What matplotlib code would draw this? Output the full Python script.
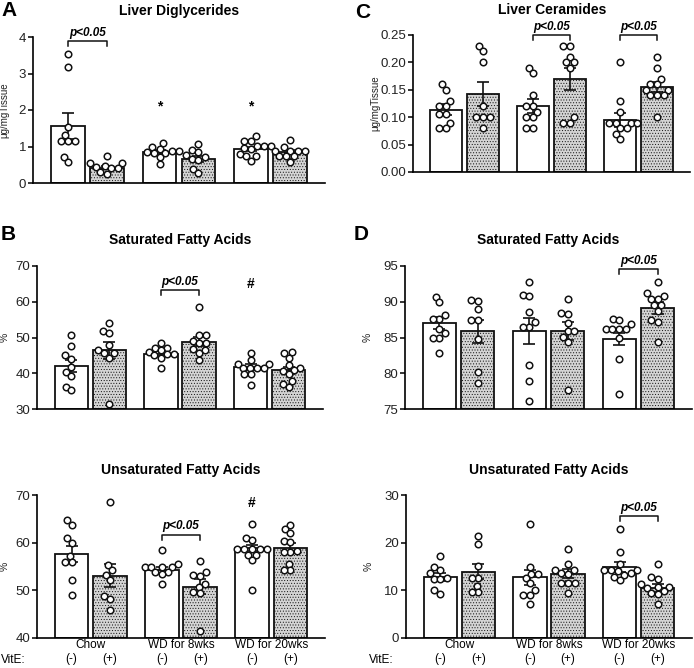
import matplotlib
matplotlib.use('Agg')
import matplotlib.pyplot as plt
import numpy as np

plt.rcParams['font.family'] = ['Liberation Sans', 'DejaVu Sans']
plt.rcParams['hatch.color'] = '#9c9c9c'
plt.rcParams['hatch.linewidth'] = 0.4

groups = ['Chow', 'WD for 8wks', 'WD for 20wks']
vite = ['(-)', '(+)']

# Liver diglycerides (A)
dg_pts = [[3.53, 3.17, 1.54, 1.31, 1.14, 1.14, 1.14, 0.72, 0.58],
          [0.73, 0.55, 0.55, 0.47, 0.44, 0.40, 0.40, 0.31, 0.26],
          [1.10, 0.99, 0.94, 0.87, 0.87, 0.85, 0.81, 0.81, 0.72, 0.51],
          [1.06, 0.90, 0.85, 0.76, 0.72, 0.67, 0.64, 0.39, 0.28],
          [1.28, 1.16, 1.16, 1.02, 1.02, 0.96, 0.94, 0.79, 0.73, 0.73, 0.60],
          [1.17, 1.02, 0.99, 0.88, 0.88, 0.88, 0.88, 0.73, 0.73, 0.73, 0.58]]
dg_mean = [1.56, 0.42, 0.85, 0.65, 0.94, 0.86]
dg_sem = [0.36, 0.05, 0.05, 0.08, 0.06, 0.05]

# Liver ceramides (C)
cer_pts = [[0.16, 0.15, 0.13, 0.12, 0.12, 0.105, 0.105, 0.09, 0.08, 0.08],
           [0.23, 0.22, 0.20, 0.12, 0.10, 0.10, 0.10, 0.08],
           [0.19, 0.18, 0.14, 0.12, 0.12, 0.11, 0.10, 0.10, 0.08, 0.08],
           [0.23, 0.23, 0.21, 0.20, 0.20, 0.19, 0.10, 0.09, 0.09],
           [0.20, 0.13, 0.11, 0.09, 0.09, 0.09, 0.09, 0.08, 0.08, 0.07, 0.06],
           [0.21, 0.19, 0.17, 0.16, 0.16, 0.15, 0.15, 0.14, 0.14, 0.14, 0.10]]
cer_mean = [0.114, 0.143, 0.120, 0.170, 0.095, 0.155]
cer_sem = [0.010, 0.022, 0.013, 0.020, 0.013, 0.009]

# Saturated fatty acids (B)
sfa_b_pts = [[50.8, 47.7, 45.0, 44.1, 41.8, 40.4, 39.2, 36.2, 35.2],
             [54.1, 51.8, 51.3, 48.0, 46.6, 45.7, 45.7, 44.4, 31.3],
             [48.5, 47.2, 47.2, 46.4, 46.0, 45.5, 45.3, 45.0, 44.4, 41.6],
             [58.6, 50.7, 50.7, 49.1, 48.5, 48.5, 46.7, 46.6, 45.7, 43.8],
             [45.7, 43.6, 42.7, 42.7, 41.6, 41.6, 41.6, 41.6, 39.7, 39.7, 36.6],
             [46.0, 45.7, 44.4, 42.2, 41.6, 40.8, 40.6, 39.7, 37.9, 37.1, 36.2]]
sfa_b_mean = [42.1, 46.4, 45.5, 48.8, 41.8, 40.8]
sfa_b_sem = [1.7, 2.4, 0.7, 1.3, 0.9, 1.0]

# Unsaturated fatty acids (B)
ufa_b_pts = [[64.7, 63.7, 60.9, 59.9, 57.3, 55.9, 55.9, 52.2, 49.1],
             [68.5, 55.4, 54.2, 53.3, 52.1, 48.9, 48.2, 45.9],
             [58.4, 55.6, 55.0, 55.0, 55.0, 55.0, 53.8, 53.8, 53.5, 51.4],
             [56.1, 53.8, 53.3, 53.1, 51.4, 50.8, 49.6, 49.4, 41.4],
             [64.0, 61.0, 60.5, 58.7, 58.7, 58.7, 58.7, 58.7, 57.5, 57.5, 56.4, 50.0],
             [63.8, 62.9, 62.0, 60.3, 60.1, 58.2, 58.0, 58.0, 55.6, 54.2, 54.3]]
ufa_b_mean = [57.6, 53.1, 54.3, 50.8, 58.9, 58.9]
ufa_b_sem = [1.7, 2.5, 0.6, 1.5, 0.7, 1.1]

# Saturated fatty acids (D)
sfa_d_pts = [[90.7, 89.9, 88.1, 87.6, 87.6, 86.2, 85.6, 85.0, 85.0, 82.9],
             [90.2, 90.1, 89.0, 87.5, 87.5, 84.8, 80.2, 78.6],
             [92.7, 91.0, 90.8, 88.5, 87.1, 86.5, 86.5, 81.1, 78.9, 76.1],
             [90.4, 88.4, 88.3, 87.0, 85.9, 85.9, 85.1, 84.4, 77.7],
             [87.6, 87.4, 86.9, 86.2, 86.2, 86.2, 86.2, 85.0, 82.0, 77.1],
             [92.8, 91.2, 90.8, 90.4, 90.4, 89.5, 89.5, 88.7, 87.5, 87.1, 84.4]]
sfa_d_mean = [87.0, 85.9, 85.9, 85.9, 84.8, 89.1]
sfa_d_sem = [0.8, 1.6, 1.8, 1.2, 0.8, 0.8]

# Unsaturated fatty acids (D)
ufa_d_pts = [[17.1, 15.0, 14.3, 13.6, 12.6, 12.4, 12.4, 10.0, 9.3],
             [21.3, 19.8, 15.2, 12.6, 12.6, 11.0, 9.6, 9.6],
             [24.0, 15.0, 13.5, 13.5, 12.6, 11.5, 10.1, 9.1, 9.1, 7.2],
             [18.7, 15.6, 14.3, 14.2, 13.6, 13.5, 11.5, 11.5, 11.5, 9.4],
             [22.9, 18.0, 15.6, 14.2, 14.2, 14.2, 14.0, 13.6, 13.3, 12.9, 12.2],
             [15.6, 12.8, 12.4, 11.4, 10.8, 10.8, 10.5, 9.8, 9.4, 9.3, 7.2]]
ufa_d_mean = [12.8, 13.9, 12.7, 13.5, 14.9, 10.5]
ufa_d_sem = [0.8, 1.6, 1.5, 0.9, 1.0, 0.8]

W, H = 694, 668
xpos = np.array([0, 1, 2.35, 3.35, 4.7, 5.7])


def rect(l, t, r, b):
    return [l / W, 1 - b / H, (r - l) / W, (b - t) / H]


def swarm(ax, xc, vals, d=6.8):
    # simple beeswarm in pixel space, returns x positions in data units
    pts = ax.transData.transform(np.column_stack([np.full(len(vals), xc), vals]))
    ys = pts[:, 1]
    ppu = ax.transData.transform([(1, 0)])[0, 0] - ax.transData.transform([(0, 0)])[0, 0]
    xs = np.zeros(len(vals))
    placed = []
    for i in np.argsort(ys):
        y = ys[i]
        cands = [0.0]
        for px, py in placed:
            dy = abs(y - py)
            if dy < d:
                dx = np.sqrt(d * d - dy * dy)
                cands += [px - dx, px + dx]
        cands.sort(key=abs)
        for c in cands:
            if all((c - px) ** 2 + (y - py) ** 2 >= d * d - 1e-6 for px, py in placed):
                xs[i] = c
                break
        placed.append((xs[i], y))
    return xc + xs / ppu


def px_to_data_h(ax, npx):
    y0 = ax.transData.inverted().transform([(0, 0)])[0, 1]
    y1 = ax.transData.inverted().transform([(0, npx)])[0, 1]
    return y1 - y0


def panel(box, pts, mean, sem, ylim, yticks, ylabel, ylab_x, fmt='%g'):
    ax = fig.add_axes(rect(*box))
    ax.set_xlim(-0.9, 6.6)
    ax.set_ylim(*ylim)
    for i in range(6):
        if i % 2 == 0:
            ax.bar(xpos[i], mean[i] - ylim[0], bottom=ylim[0], width=0.87,
                   color='white', edgecolor='#111111', linewidth=1.3, zorder=2)
        else:
            ax.bar(xpos[i], mean[i] - ylim[0], bottom=ylim[0], width=0.87,
                   color='#d4d4d4', edgecolor='#111111', linewidth=1.3,
                   hatch='......', zorder=2)
        ax.errorbar(xpos[i], mean[i], yerr=sem[i], color='#111111', capsize=4.5,
                    elinewidth=1.2, capthick=1.2, zorder=3)
    for i in range(6):
        xs = swarm(ax, xpos[i], pts[i])
        ax.plot(xs, pts[i], 'o', ms=4.7, mfc='white', mec='#111111', mew=1.1,
                zorder=4, clip_on=False)
    ax.spines['top'].set_visible(False)
    ax.spines['right'].set_visible(False)
    ax.spines['left'].set_linewidth(1.2)
    ax.spines['bottom'].set_linewidth(1.2)
    ax.set_xticks([])
    ax.set_yticks(yticks)
    ax.set_yticklabels([fmt % t for t in yticks])
    ax.tick_params(axis='y', length=3.5, width=1.1, labelsize=9.5,
                   labelcolor='#222222', pad=1.5)
    ax.set_ylabel(ylabel, fontsize=7 if len(ylabel) > 2 else 7.5, color='#222222')
    ax.yaxis.set_label_coords((ylab_x - box[0]) / (box[2] - box[0]), 0.5)
    return ax


def pbracket(ax, i, j, y):
    h = px_to_data_h(ax, 5)
    ax.plot([xpos[i], xpos[i], xpos[j], xpos[j]], [y - h, y, y, y - h],
            color='#111111', lw=1.1, clip_on=False, zorder=5)
    ax.annotate('p<0.05', ((xpos[i] + xpos[j]) / 2, y), xytext=(0, 1.5),
                textcoords='offset points', ha='center', va='bottom',
                fontsize=8.5, fontweight='bold', style='italic',
                annotation_clip=False)


def mark(ax, i, y, s, size):
    ax.text(xpos[i], y, s, ha='center', va='center', fontsize=size,
            fontweight='bold', clip_on=False)


def bottom_labels(ax, vite_x):
    for g in range(3):
        ax.annotate(groups[g], ((xpos[2 * g] + xpos[2 * g + 1]) / 2, 0),
                    xycoords=('data', 'axes fraction'), xytext=(0, -1),
                    textcoords='offset points', ha='center', va='top',
                    fontsize=8.5, annotation_clip=False)
    for i in range(6):
        ax.annotate(vite[i % 2], (xpos[i], 0), xycoords=('data', 'axes fraction'),
                    xytext=(0, -11), textcoords='offset points', ha='center',
                    va='top', fontsize=8.5, annotation_clip=False)
    fig.text(vite_x / W, 1 - 660 / H, 'VitE:', ha='left', va='center', fontsize=8.5)


def heading(x, y, s, size=10):
    fig.text(x / W, 1 - y / H, s, ha='center', va='center', fontsize=size,
             fontweight='bold')


fig = plt.figure(figsize=(W / 100, H / 100), dpi=100)

axA = panel((33, 37, 325, 183), dg_pts, dg_mean, dg_sem, (0, 4), [0, 1, 2, 3, 4],
            'μg/mgTissue', 9)
pbracket(axA, 0, 1, 3.88)
mark(axA, 2, 2.1, '*', 10)
mark(axA, 4, 2.1, '*', 10)

axC = panel((413, 35, 690, 172), cer_pts, cer_mean, cer_sem, (0, 0.25),
            [0, 0.05, 0.10, 0.15, 0.20, 0.25], 'μg/mgTissue', 380, fmt='%.2f')
pbracket(axC, 2, 3, 0.25)
pbracket(axC, 4, 5, 0.25)

axB = panel((37, 266, 323, 409), sfa_b_pts, sfa_b_mean, sfa_b_sem, (30, 70),
            [30, 40, 50, 60, 70], '%', 10)
pbracket(axB, 2, 3, 63.3)
mark(axB, 4, 65, '#', 10)

axD = panel((405, 266, 692, 409), sfa_d_pts, sfa_d_mean, sfa_d_sem, (75, 95),
            [75, 80, 85, 90, 95], '%', 373)
pbracket(axD, 4, 5, 94.6)

axE = panel((37, 495, 325, 638), ufa_b_pts, ufa_b_mean, ufa_b_sem, (40, 70),
            [40, 50, 60, 70], '%', 10)
pbracket(axE, 2, 3, 61.7)
mark(axE, 4, 68.3, '#', 10)
bottom_labels(axE, 1)

axF = panel((406, 495, 692, 638), ufa_d_pts, ufa_d_mean, ufa_d_sem, (0, 30),
            [0, 10, 20, 30], '%', 374)
pbracket(axF, 4, 5, 25.5)
bottom_labels(axF, 369)

heading(179, 11, 'Liver Diglycerides')
heading(552, 10, 'Liver Ceramides')
heading(180, 240, 'Saturated Fatty Acids')
heading(548, 240, 'Saturated Fatty Acids')
heading(181, 470, 'Unsaturated Fatty Acids')
heading(549, 470, 'Unsaturated Fatty Acids')

for x, y, s in [(1, 11, 'A'), (355, 12, 'C'), (1, 235, 'B'), (354, 235, 'D')]:
    fig.text(x / W, 1 - y / H, s, ha='left', va='center', fontsize=15,
             fontweight='bold')

fig.savefig('out.png', dpi=100)
